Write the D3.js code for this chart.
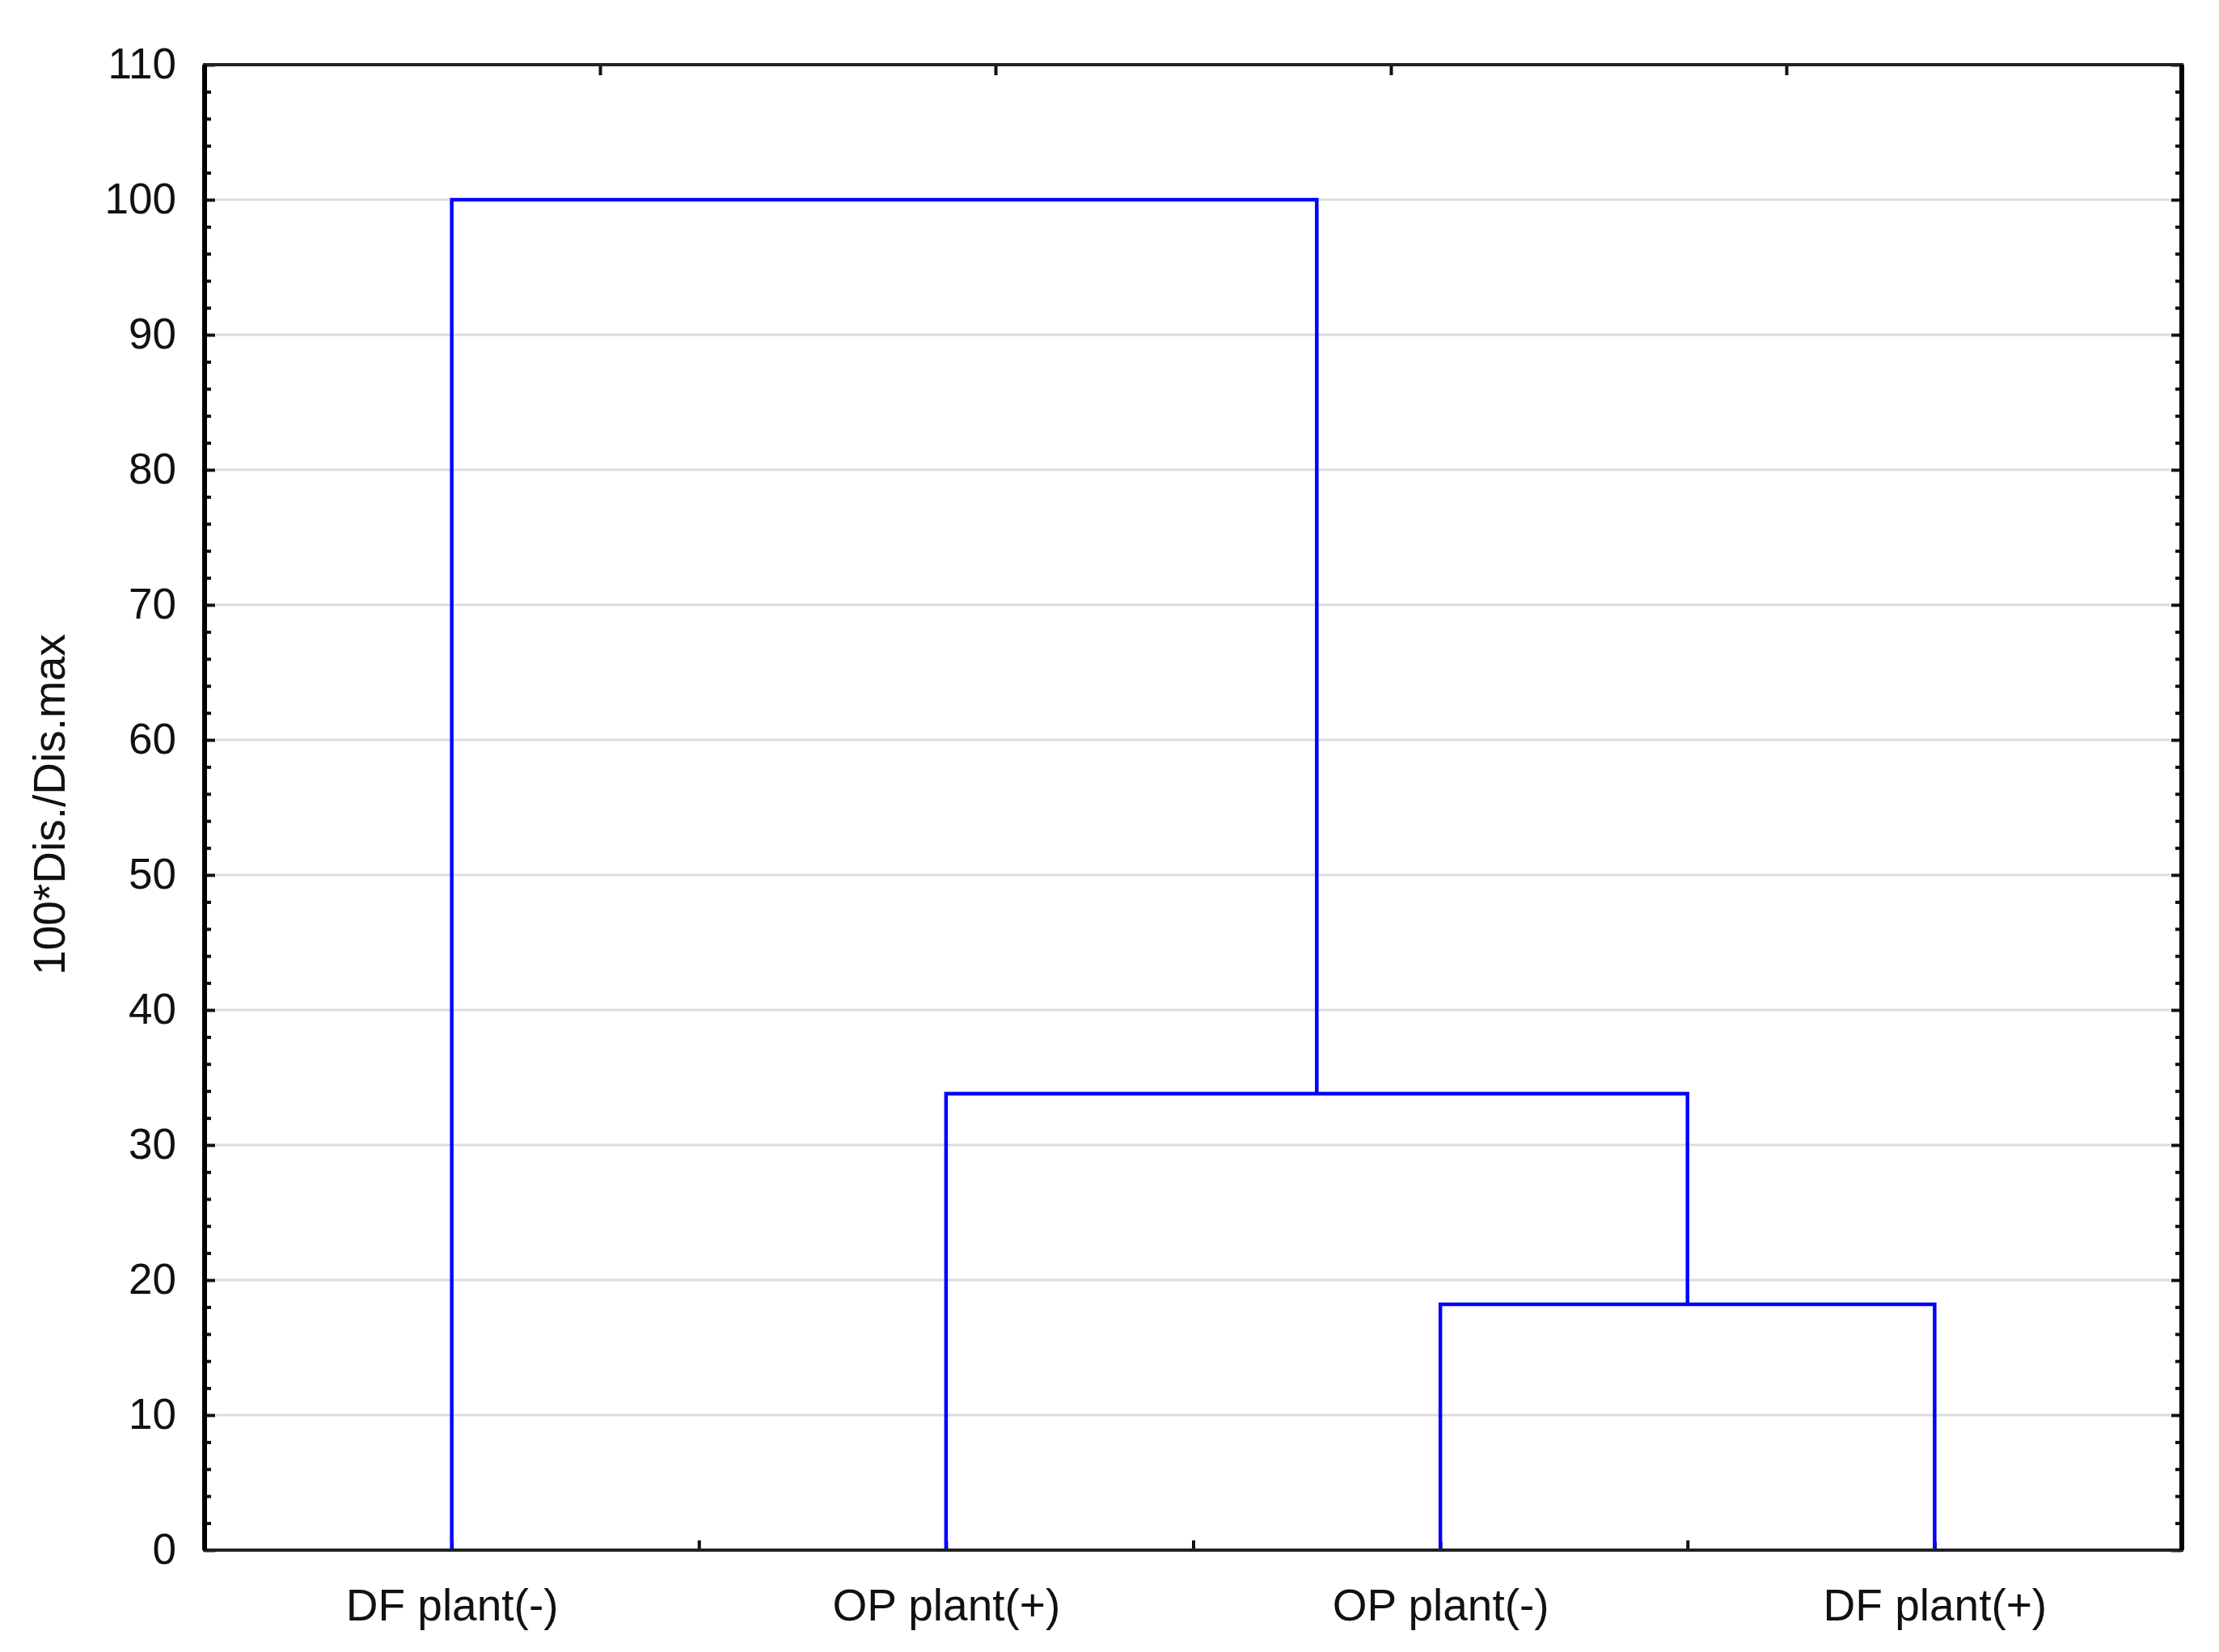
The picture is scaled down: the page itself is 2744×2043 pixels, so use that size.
<!DOCTYPE html>
<html>
<head>
<meta charset="utf-8">
<script src="https://cdn.jsdelivr.net/npm/d3@7"></script>
<style>
  body { margin: 0; background: #fff; }
  svg { display: block; font-family: 'Liberation Sans', Arial, sans-serif; }
  .axis path { display: none; }
  .axis line { stroke: #111; stroke-width: 4; }
  .axis text { fill: #111; }
</style>
</head>
<body>
<div id="chart"></div>
<script>
// leaves, left to right
const leaves = ['DF plant(-)', 'OP plant(+)', 'OP plant(-)', 'DF plant(+)'];
// joins: children are leaf indexes or earlier join ids ('j0', 'j1')
const joinLeft = [2, 1, 0];
const joinRight = [3, 'j0', 'j1'];
const joinHeights = [18.2, 33.8, 100];
const yTicks = [0, 10, 20, 30, 40, 50, 60, 70, 80, 90, 100, 110];
const yTitle = '100*Dis./Dis.max';

const W = 2744, H = 2043;
const margin = { left: 253, right: 46, top: 80, bottom: 126 };
const innerW = W - margin.left - margin.right;
const innerH = H - margin.top - margin.bottom;

const svg = d3.select('#chart').append('svg')
  .attr('width', W)
  .attr('height', H);
svg.append('rect').attr('width', W).attr('height', H).attr('fill', '#fff');

const g = svg.append('g').attr('transform', `translate(${margin.left},${margin.top})`);

const x = d3.scalePoint().domain(leaves).range([0, innerW]).padding(0.5);
const xBounds = d3.scaleLinear().domain([0, leaves.length]).range([0, innerW]);
const xTop = d3.scaleLinear().domain([0, 5]).range([0, innerW]);
const y = d3.scaleLinear().domain([0, 110]).range([innerH, 0]);

// grid
g.append('g')
  .selectAll('line')
  .data(yTicks.filter(d => d > 0 && d < 110))
  .join('line')
  .attr('x1', 14)
  .attr('x2', innerW - 14)
  .attr('y1', d => y(d))
  .attr('y2', d => y(d))
  .attr('stroke', '#dcdcdc')
  .attr('stroke-width', 3);

// minor ticks every 2 units
const minor = d3.range(0, 111, 2).filter(d => d % 10 !== 0);

g.append('g').attr('class', 'axis')
  .call(d3.axisLeft(y).tickValues(yTicks).tickSize(-13).tickPadding(35))
  .selectAll('text')
  .attr('font-size', 53);
g.append('g').attr('class', 'axis')
  .call(d3.axisLeft(y).tickValues(minor).tickSize(-8).tickFormat(''));
g.append('g').attr('class', 'axis')
  .attr('transform', `translate(${innerW},0)`)
  .call(d3.axisRight(y).tickValues(yTicks).tickSize(-13).tickFormat(''));
g.append('g').attr('class', 'axis')
  .attr('transform', `translate(${innerW},0)`)
  .call(d3.axisRight(y).tickValues(minor).tickSize(-8).tickFormat(''));

// top ticks
g.append('g').attr('class', 'axis')
  .call(d3.axisTop(xTop).tickValues([1, 2, 3, 4]).tickSize(-13).tickFormat(''));

// bottom ticks at boundaries and labels
g.append('g').attr('class', 'axis')
  .attr('transform', `translate(0,${innerH})`)
  .call(d3.axisBottom(xBounds).tickValues([1, 2, 3]).tickSize(-12).tickFormat(''));
g.append('g').attr('class', 'axis')
  .attr('transform', `translate(0,${innerH})`)
  .call(d3.axisBottom(x).tickSize(-10).tickPadding(48))
  .selectAll('text')
  .attr('font-size', 55);

// dendrogram
const pos = {};
leaves.forEach((name, i) => { pos[i] = { x: x(name), h: 0 }; });
const links = [];
joinHeights.forEach((h, i) => {
  const a = pos[joinLeft[i]], b = pos[joinRight[i]];
  links.push({ a, b, h });
  pos['j' + i] = { x: (a.x + b.x) / 2, h };
});

g.append('g')
  .selectAll('path')
  .data(links)
  .join('path')
  .attr('fill', 'none')
  .attr('stroke', '#0000ff')
  .attr('stroke-width', 4.5)
  .attr('stroke-linejoin', 'miter')
  .attr('d', d => `M${d.a.x},${y(d.a.h)}V${y(d.h)}H${d.b.x}V${y(d.b.h)}`);

// frame
g.append('rect')
  .attr('width', innerW)
  .attr('height', innerH)
  .attr('fill', 'none')
  .attr('stroke', '#222')
  .attr('stroke-width', 4);
g.append('line').attr('x1', 0).attr('x2', 0).attr('y1', 0).attr('y2', innerH)
  .attr('stroke', '#000').attr('stroke-width', 6);
g.append('line').attr('x1', innerW).attr('x2', innerW).attr('y1', 0).attr('y2', innerH)
  .attr('stroke', '#000').attr('stroke-width', 6);

svg.append('text')
  .attr('transform', `translate(80,995) rotate(-90)`)
  .attr('text-anchor', 'middle')
  .attr('font-size', 55)
  .attr('fill', '#111')
  .text(yTitle);
</script>
</body>
</html>
